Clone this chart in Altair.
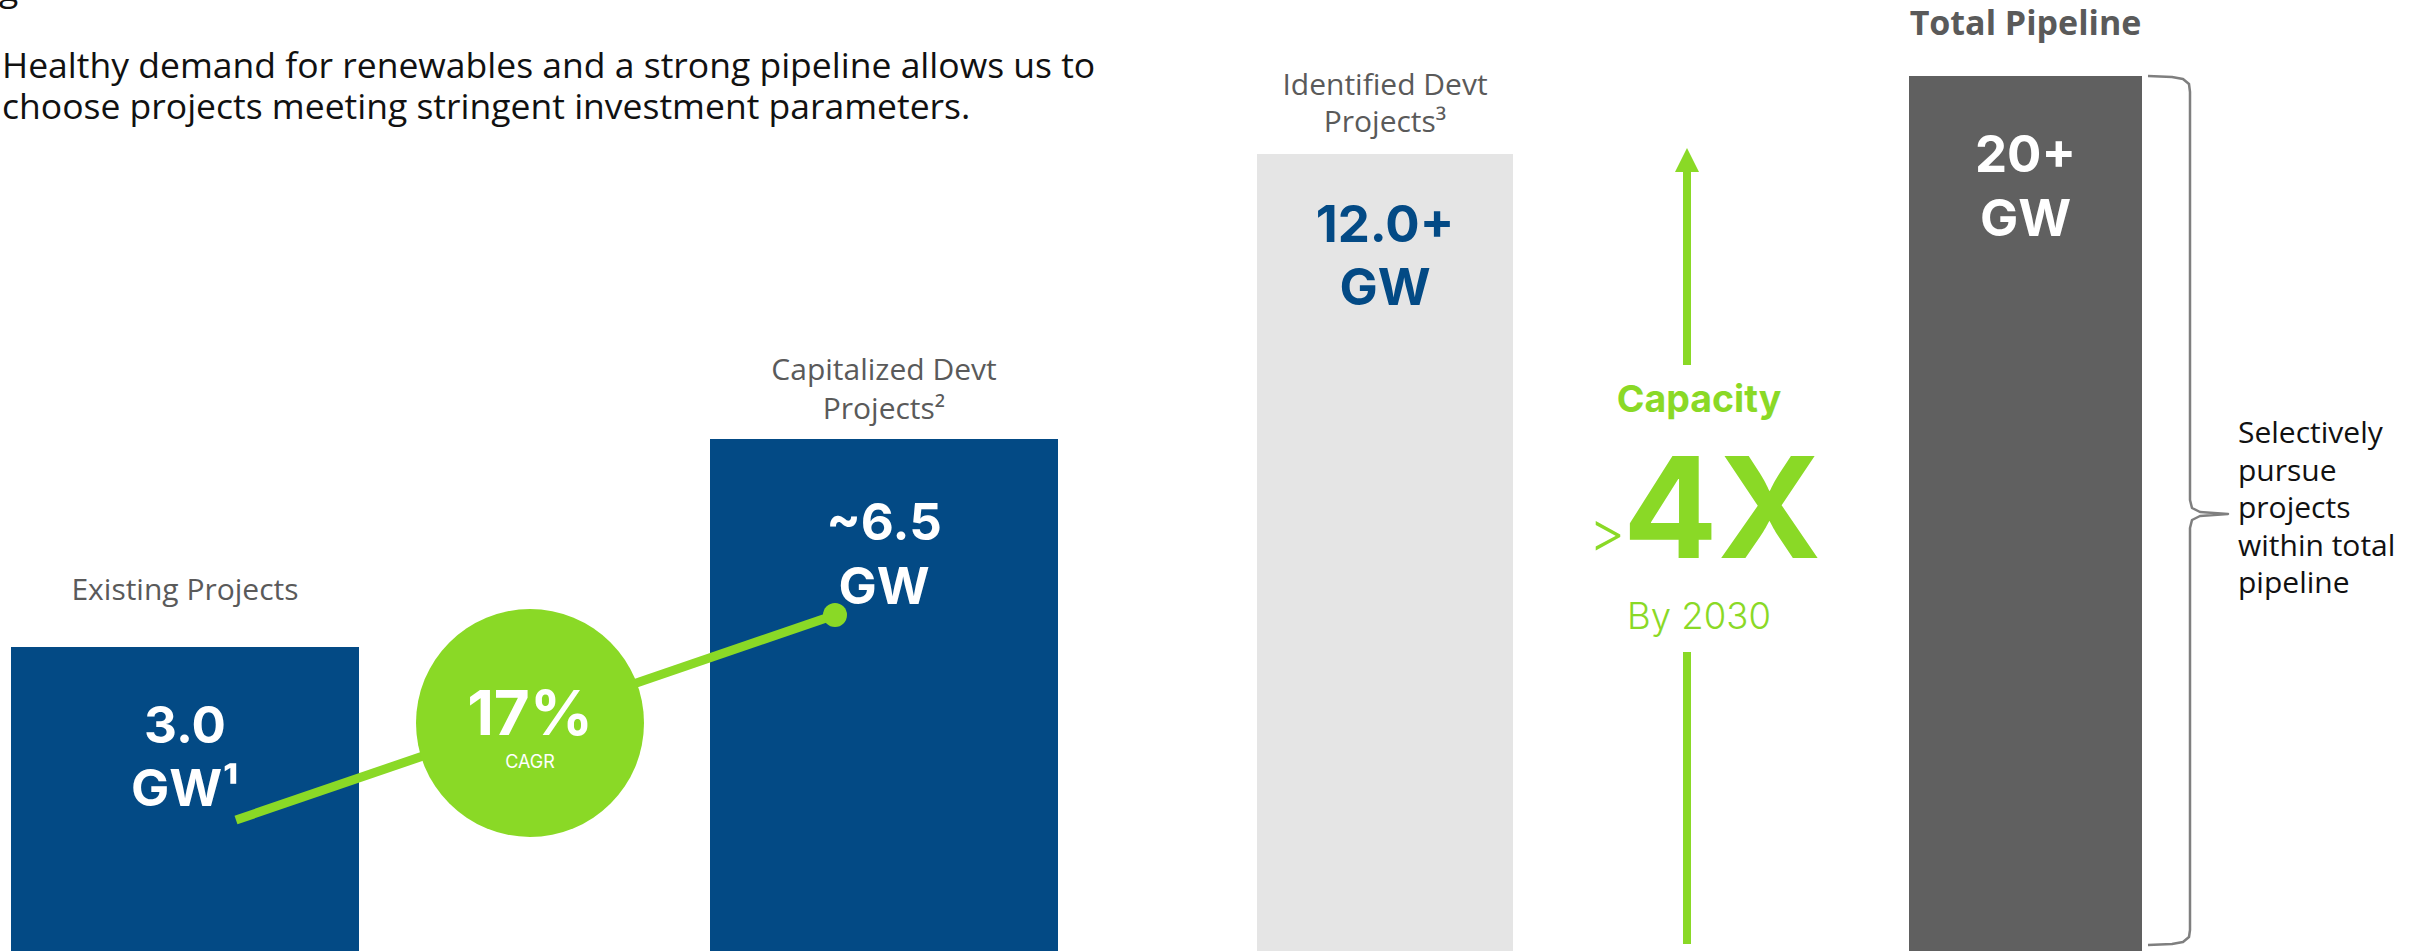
import altair as alt
import pandas as pd

W, H = 2417, 951

# ---------------- data ----------------
categories = ["Existing Projects", "Capitalized Devt Projects",
              "Identified Devt Projects", "Total Pipeline"]
value_text = ["3.0", "~6.5", "12.0+", "20+"]
unit_text = ["GW¹", "GW", "GW", "GW"]
label_lines = [["Existing Projects"], ["Capitalized Devt", "Projects²"],
               ["Identified Devt", "Projects³"]]
header_text = "Total Pipeline"
subtitle_lines = ["Healthy demand for renewables and a strong pipeline allows us to",
                  "choose projects meeting stringent investment parameters."]
cagr_value = "17%"
cagr_label = "CAGR"
capacity_title = "Capacity"
capacity_prefix = ">"
capacity_mult = "4X"
capacity_when = "By 2030"
note_lines = ["Selectively", "pursue", "projects", "within total", "pipeline"]

# bar tops as drawn (slide units, measured from the top edge)
bar_top = [647, 439, 154, 76]

# ---------------- layout (slide units, y from top) ----------------
bar_left = [11, 710, 1257, 1909]
bar_right = [359, 1058, 1513, 2142]
bar_fill = ["#034A85", "#034A85", "#E5E5E5", "#606060"]
value_fill = ["#FFFFFF", "#FFFFFF", "#034A85", "#FFFFFF"]
value_base = [743, 540, 242, 172]
unit_base = [806, 604, 305, 236]
label_base = [[600], [380, 419], [95, 132]]

GREEN = "#8AD926"
GREY_TXT = "#5A5A5A"
SANS = "Open Sans"
GEO = "Inter"

xs = alt.Scale(domain=[0, W], nice=False, zero=False)
ys = alt.Scale(domain=[0, H], nice=False, zero=False, reverse=True)


def X(f="x"):
    return alt.X(f, type="quantitative", scale=xs, axis=None)


def Y(f="y"):
    return alt.Y(f, type="quantitative", scale=ys, axis=None)


def txt(rows, size, color, weight="normal", font=SANS, align="center"):
    df = pd.DataFrame(rows, columns=["text", "x", "y"])
    return alt.Chart(df).mark_text(
        font=font, fontSize=size, fontWeight=weight, color=color,
        align=align, baseline="alphabetic"
    ).encode(x=X(), y=Y(), text="text:N")


# bars
bars_df = pd.DataFrame({
    "cat": categories, "x0": bar_left, "x1": bar_right,
    "top": bar_top, "bottom": [H] * 4, "fill": bar_fill,
})
bars = alt.Chart(bars_df).mark_rect().encode(
    x=X("x0"), x2="x1", y=Y("top"), y2="bottom",
    color=alt.Color("fill:N", scale=None),
)

centers = [(a + b) / 2 for a, b in zip(bar_left, bar_right)]

layers = [bars]

# growth line + end dot
line_df = pd.DataFrame({"x": [236, 835], "y": [820, 615]})
layers.append(alt.Chart(line_df).mark_line(color=GREEN, strokeWidth=9).encode(x=X(), y=Y()))
layers.append(alt.Chart(line_df.iloc[[1]]).mark_point(
    shape="circle", filled=True, size=576, color=GREEN, opacity=1, strokeWidth=0
).encode(x=X(), y=Y()))

# CAGR circle
circ_df = pd.DataFrame({"x": [530], "y": [723]})
layers.append(alt.Chart(circ_df).mark_point(
    shape="circle", filled=True, size=228 * 228, color=GREEN, opacity=1, strokeWidth=0
).encode(x=X(), y=Y()))
layers.append(txt([(cagr_value, 530, 735)], 62, "#FFFFFF", "bold", GEO))
layers.append(txt([(cagr_label, 530, 768)], 18, "#FFFFFF", "normal", GEO))

# values inside bars
for i in range(4):
    layers.append(txt([(value_text[i], centers[i], value_base[i]),
                       (unit_text[i], centers[i], unit_base[i])],
                      51, value_fill[i], "bold", GEO))

# labels above bars
for i in range(3):
    rows = [(t, centers[i], yb) for t, yb in zip(label_lines[i], label_base[i])]
    layers.append(txt(rows, 30, GREY_TXT, "normal", SANS))
layers.append(txt([(header_text, centers[3], 35)], 34, GREY_TXT, "bold", SANS))

# subtitle
layers.append(txt([("g", -1, 1)], 35.5, "#111111", "normal", SANS, "left"))
layers.append(txt([(subtitle_lines[0], 2, 78), (subtitle_lines[1], 2, 119)],
                  35.5, "#111111", "normal", SANS, "left"))

# capacity arrow
shaft_df = pd.DataFrame({"x": [1687, 1687], "y": [172, 652], "y2": [365, 944]})
layers.append(alt.Chart(shaft_df).mark_rule(color=GREEN, strokeWidth=8).encode(
    x=X(), y=Y(), y2="y2"))
head_df = pd.DataFrame({"x": [1687], "y": [160]})
layers.append(alt.Chart(head_df).mark_point(
    shape="M0,-1L1,1L-1,1Z", filled=True, size=576, color=GREEN, opacity=1, strokeWidth=0
).encode(x=X(), y=Y()))
layers.append(txt([(capacity_title, 1699, 412)], 37.5, GREEN, "bold", GEO))
layers.append(txt([(capacity_mult, 1722, 558)], 140, GREEN, "bold", GEO))
layers.append(txt([(capacity_prefix, 1607, 552)], 56, GREEN, 300, GEO))
layers.append(txt([(capacity_when, 1699, 629)], 36.5, GREEN, 300, GEO))

# brace
brace_pts = [(2148, 76), (2172, 77), (2183, 79), (2189, 84), (2190, 92),
             (2190, 500), (2192, 508), (2200, 512), (2228, 514),
             (2200, 516), (2192, 520), (2190, 528),
             (2190, 930), (2189, 937), (2183, 942), (2172, 944), (2148, 945)]
brace_df = pd.DataFrame({"i": range(len(brace_pts)),
                         "x": [p[0] for p in brace_pts],
                         "y": [p[1] for p in brace_pts]})
layers.append(alt.Chart(brace_df).mark_line(
    color="#7F7F7F", strokeWidth=2.5, strokeJoin="round").encode(
    x=X(), y=Y(), order="i:Q"))

# side note
note_base = [443, 480.5, 518, 555.5, 593]
layers.append(txt([(t, 2238, yb) for t, yb in zip(note_lines, note_base)],
                  30, "#111111", "normal", SANS, "left"))

chart = alt.layer(*layers).properties(
    width=W, height=H, padding=0,
    autosize=alt.AutoSizeParams(type="none"),
    background="#FFFFFF",
).configure_view(stroke=None)

chart.save("out.html", embed_options={"renderer": "svg", "actions": False})
